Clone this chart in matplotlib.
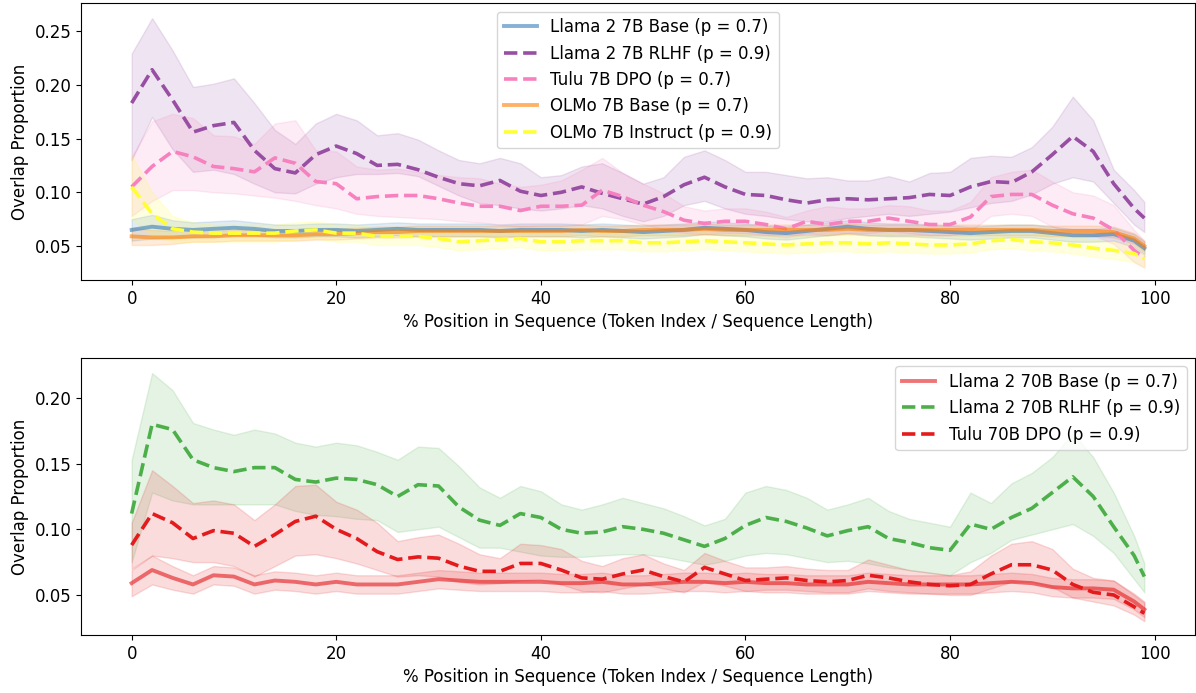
import matplotlib
matplotlib.use("Agg")
import matplotlib.pyplot as plt
import numpy as np

plt.rcParams["font.size"] = 12

# positions (% of sequence) at which values were read
x = [0, 2, 4, 6, 8, 10, 12, 14, 16, 18, 20, 22, 24, 26, 28, 30, 32, 34, 36, 38,
     40, 42, 44, 46, 48, 50, 52, 54, 56, 58, 60, 62, 64, 66, 68, 70, 72, 74, 76, 78,
     80, 82, 84, 86, 88, 90, 92, 94, 96, 98, 99]

# ---------------- top panel (7B models) ----------------
llama7_base = [0.065, 0.068, 0.066, 0.065, 0.066, 0.067, 0.066, 0.064, 0.064, 0.065,
               0.065, 0.064, 0.065, 0.066, 0.065, 0.065, 0.065, 0.065, 0.064, 0.065,
               0.065, 0.065, 0.064, 0.065, 0.064, 0.063, 0.064, 0.065, 0.067, 0.066,
               0.065, 0.063, 0.062, 0.064, 0.066, 0.068, 0.066, 0.065, 0.065, 0.064,
               0.063, 0.062, 0.063, 0.064, 0.064, 0.062, 0.060, 0.060, 0.061, 0.055, 0.048]
llama7_base_spread = [0.010, 0.011, 0.008, 0.007, 0.007, 0.007, 0.006, 0.006, 0.006, 0.006,
                      0.006, 0.006, 0.006, 0.006, 0.006, 0.006, 0.006, 0.006, 0.006, 0.006,
                      0.006, 0.006, 0.006, 0.006, 0.006, 0.006, 0.006, 0.006, 0.006, 0.006,
                      0.006, 0.006, 0.006, 0.006, 0.006, 0.006, 0.006, 0.006, 0.006, 0.006,
                      0.006, 0.006, 0.006, 0.006, 0.006, 0.006, 0.006, 0.006, 0.006, 0.006, 0.006]

llama7_rlhf = [0.183, 0.214, 0.186, 0.156, 0.162, 0.165, 0.139, 0.122, 0.118, 0.135,
               0.143, 0.136, 0.125, 0.126, 0.121, 0.114, 0.108, 0.106, 0.111, 0.101,
               0.097, 0.100, 0.105, 0.099, 0.094, 0.089, 0.096, 0.107, 0.114, 0.105,
               0.098, 0.097, 0.093, 0.090, 0.093, 0.094, 0.093, 0.094, 0.095, 0.098,
               0.097, 0.105, 0.110, 0.109, 0.119, 0.135, 0.152, 0.138, 0.108, 0.085, 0.076]
llama7_rlhf_hi = [0.229, 0.262, 0.232, 0.198, 0.201, 0.206, 0.183, 0.158, 0.145, 0.164,
                  0.173, 0.167, 0.153, 0.155, 0.149, 0.139, 0.130, 0.127, 0.132, 0.127,
                  0.114, 0.116, 0.124, 0.127, 0.118, 0.108, 0.114, 0.133, 0.139, 0.130,
                  0.119, 0.119, 0.116, 0.113, 0.114, 0.111, 0.111, 0.115, 0.110, 0.118,
                  0.119, 0.132, 0.134, 0.133, 0.142, 0.161, 0.189, 0.167, 0.121, 0.102, 0.091]
llama7_rlhf_lo = [0.130, 0.170, 0.140, 0.119, 0.121, 0.117, 0.108, 0.100, 0.099, 0.108,
                  0.114, 0.117, 0.117, 0.118, 0.115, 0.106, 0.097, 0.090, 0.088, 0.085,
                  0.083, 0.085, 0.088, 0.085, 0.078, 0.073, 0.078, 0.088, 0.092, 0.085,
                  0.080, 0.078, 0.075, 0.073, 0.073, 0.076, 0.078, 0.080, 0.078, 0.080,
                  0.082, 0.086, 0.090, 0.092, 0.098, 0.108, 0.114, 0.110, 0.090, 0.070, 0.063]

tulu7_dpo = [0.105, 0.124, 0.138, 0.133, 0.124, 0.122, 0.119, 0.132, 0.127, 0.110,
             0.108, 0.094, 0.096, 0.097, 0.097, 0.094, 0.090, 0.087, 0.087, 0.083,
             0.087, 0.087, 0.088, 0.102, 0.096, 0.088, 0.082, 0.074, 0.071, 0.073,
             0.073, 0.070, 0.066, 0.073, 0.070, 0.073, 0.073, 0.076, 0.073, 0.070,
             0.070, 0.077, 0.096, 0.098, 0.098, 0.088, 0.080, 0.076, 0.065, 0.046, 0.039]
tulu7_dpo_hi = [0.133, 0.166, 0.173, 0.169, 0.153, 0.152, 0.145, 0.164, 0.167, 0.139,
                0.138, 0.124, 0.121, 0.122, 0.119, 0.116, 0.114, 0.113, 0.108, 0.105,
                0.107, 0.111, 0.121, 0.132, 0.118, 0.108, 0.099, 0.087, 0.083, 0.085,
                0.085, 0.082, 0.077, 0.083, 0.087, 0.085, 0.085, 0.088, 0.087, 0.083,
                0.083, 0.091, 0.114, 0.119, 0.121, 0.110, 0.100, 0.097, 0.088, 0.065, 0.055]
tulu7_dpo_lo = [0.078, 0.092, 0.102, 0.102, 0.100, 0.099, 0.097, 0.095, 0.092, 0.088,
                0.085, 0.080, 0.078, 0.077, 0.076, 0.075, 0.073, 0.072, 0.070, 0.068,
                0.069, 0.069, 0.070, 0.078, 0.075, 0.070, 0.066, 0.062, 0.061, 0.062,
                0.062, 0.060, 0.058, 0.062, 0.060, 0.062, 0.062, 0.064, 0.062, 0.060,
                0.060, 0.064, 0.078, 0.080, 0.078, 0.068, 0.062, 0.060, 0.052, 0.035, 0.030]

olmo7_base = [0.059, 0.058, 0.058, 0.059, 0.059, 0.060, 0.060, 0.060, 0.060, 0.061,
              0.061, 0.062, 0.063, 0.063, 0.064, 0.064, 0.064, 0.064, 0.064, 0.064,
              0.064, 0.064, 0.065, 0.064, 0.064, 0.065, 0.065, 0.065, 0.066, 0.065,
              0.065, 0.065, 0.065, 0.065, 0.065, 0.066, 0.065, 0.065, 0.065, 0.065,
              0.065, 0.065, 0.065, 0.065, 0.065, 0.064, 0.064, 0.064, 0.063, 0.057, 0.050]
olmo7_base_spread = [0.008, 0.007, 0.006, 0.005, 0.005, 0.005, 0.005, 0.005, 0.005, 0.005,
                     0.005, 0.005, 0.005, 0.005, 0.005, 0.005, 0.005, 0.005, 0.005, 0.005,
                     0.005, 0.005, 0.005, 0.005, 0.005, 0.005, 0.005, 0.005, 0.005, 0.005,
                     0.005, 0.005, 0.005, 0.005, 0.005, 0.005, 0.005, 0.005, 0.005, 0.005,
                     0.005, 0.005, 0.005, 0.005, 0.005, 0.005, 0.005, 0.005, 0.005, 0.005, 0.005]

olmo7_instruct = [0.105, 0.080, 0.066, 0.063, 0.062, 0.062, 0.062, 0.062, 0.064, 0.065,
                  0.062, 0.062, 0.059, 0.059, 0.059, 0.057, 0.054, 0.055, 0.056, 0.057,
                  0.054, 0.054, 0.055, 0.055, 0.055, 0.053, 0.053, 0.054, 0.055, 0.054,
                  0.053, 0.052, 0.051, 0.052, 0.053, 0.053, 0.052, 0.053, 0.052, 0.051,
                  0.051, 0.052, 0.055, 0.056, 0.054, 0.053, 0.051, 0.048, 0.046, 0.043, 0.038]
olmo7_instruct_spread = [0.030, 0.020, 0.012, 0.009, 0.008, 0.008, 0.008, 0.008, 0.008, 0.008,
                         0.008, 0.008, 0.008, 0.008, 0.008, 0.008, 0.008, 0.008, 0.008, 0.008,
                         0.008, 0.008, 0.008, 0.008, 0.008, 0.008, 0.008, 0.008, 0.008, 0.008,
                         0.008, 0.008, 0.008, 0.008, 0.008, 0.008, 0.008, 0.008, 0.008, 0.008,
                         0.008, 0.008, 0.008, 0.008, 0.008, 0.008, 0.008, 0.008, 0.008, 0.008, 0.008]

# ---------------- bottom panel (70B models) ----------------
llama70_base = [0.059, 0.069, 0.063, 0.058, 0.065, 0.064, 0.058, 0.061, 0.060, 0.058,
                0.060, 0.058, 0.058, 0.058, 0.060, 0.062, 0.061, 0.060, 0.060, 0.060,
                0.060, 0.059, 0.059, 0.060, 0.058, 0.058, 0.059, 0.060, 0.060, 0.059,
                0.060, 0.059, 0.059, 0.058, 0.058, 0.058, 0.060, 0.059, 0.058, 0.058,
                0.058, 0.058, 0.059, 0.060, 0.059, 0.056, 0.055, 0.055, 0.054, 0.045, 0.039]
llama70_base_spread = [0.010, 0.011, 0.009, 0.007, 0.007, 0.007, 0.007, 0.007, 0.007, 0.007,
                       0.007, 0.007, 0.007, 0.007, 0.007, 0.007, 0.007, 0.007, 0.007, 0.007,
                       0.007, 0.007, 0.007, 0.007, 0.007, 0.007, 0.007, 0.007, 0.007, 0.007,
                       0.007, 0.007, 0.007, 0.007, 0.007, 0.007, 0.007, 0.007, 0.007, 0.007,
                       0.007, 0.007, 0.007, 0.007, 0.007, 0.007, 0.007, 0.007, 0.007, 0.006, 0.006]

llama70_rlhf = [0.112, 0.180, 0.176, 0.153, 0.147, 0.144, 0.147, 0.147, 0.138, 0.136,
                0.139, 0.138, 0.134, 0.125, 0.134, 0.133, 0.117, 0.107, 0.103, 0.112,
                0.109, 0.100, 0.097, 0.098, 0.102, 0.100, 0.097, 0.092, 0.087, 0.093,
                0.103, 0.109, 0.106, 0.101, 0.095, 0.099, 0.102, 0.093, 0.090, 0.086,
                0.084, 0.104, 0.100, 0.109, 0.116, 0.128, 0.140, 0.125, 0.102, 0.080, 0.064]
llama70_rlhf_hi = [0.153, 0.219, 0.206, 0.181, 0.176, 0.172, 0.176, 0.173, 0.166, 0.163,
                   0.166, 0.164, 0.159, 0.153, 0.163, 0.162, 0.148, 0.132, 0.124, 0.133,
                   0.129, 0.119, 0.115, 0.119, 0.124, 0.120, 0.116, 0.110, 0.103, 0.108,
                   0.128, 0.133, 0.130, 0.124, 0.115, 0.119, 0.124, 0.114, 0.108, 0.105,
                   0.102, 0.128, 0.120, 0.135, 0.143, 0.155, 0.173, 0.155, 0.128, 0.095, 0.074]
llama70_rlhf_lo = [0.075, 0.128, 0.122, 0.119, 0.119, 0.119, 0.119, 0.119, 0.114, 0.111,
                   0.110, 0.108, 0.107, 0.098, 0.100, 0.102, 0.094, 0.086, 0.086, 0.083,
                   0.080, 0.079, 0.079, 0.080, 0.081, 0.081, 0.079, 0.076, 0.073, 0.076,
                   0.080, 0.082, 0.081, 0.078, 0.075, 0.076, 0.074, 0.071, 0.069, 0.067,
                   0.065, 0.075, 0.082, 0.092, 0.096, 0.100, 0.104, 0.095, 0.082, 0.062, 0.052]

tulu70_dpo = [0.088, 0.112, 0.105, 0.093, 0.099, 0.097, 0.087, 0.096, 0.106, 0.110,
              0.100, 0.093, 0.083, 0.077, 0.079, 0.078, 0.072, 0.068, 0.068, 0.074,
              0.074, 0.069, 0.063, 0.062, 0.066, 0.069, 0.064, 0.060, 0.071, 0.066,
              0.061, 0.062, 0.063, 0.061, 0.060, 0.061, 0.065, 0.063, 0.060, 0.058,
              0.057, 0.058, 0.066, 0.073, 0.073, 0.069, 0.058, 0.052, 0.050, 0.041, 0.036]
tulu70_dpo_hi = [0.105, 0.145, 0.133, 0.120, 0.122, 0.119, 0.107, 0.119, 0.133, 0.134,
                 0.121, 0.115, 0.105, 0.091, 0.094, 0.096, 0.089, 0.081, 0.078, 0.089,
                 0.088, 0.085, 0.076, 0.072, 0.078, 0.081, 0.074, 0.069, 0.082, 0.076,
                 0.071, 0.071, 0.072, 0.070, 0.069, 0.069, 0.077, 0.073, 0.069, 0.067,
                 0.065, 0.068, 0.080, 0.089, 0.091, 0.085, 0.070, 0.063, 0.061, 0.050, 0.044]
tulu70_dpo_lo = [0.070, 0.080, 0.078, 0.075, 0.075, 0.072, 0.064, 0.072, 0.080, 0.081,
                 0.078, 0.074, 0.069, 0.064, 0.065, 0.064, 0.060, 0.058, 0.059, 0.061,
                 0.062, 0.058, 0.053, 0.052, 0.055, 0.058, 0.055, 0.052, 0.060, 0.057,
                 0.053, 0.054, 0.054, 0.053, 0.052, 0.052, 0.055, 0.053, 0.052, 0.051,
                 0.050, 0.050, 0.055, 0.060, 0.060, 0.056, 0.048, 0.045, 0.042, 0.035, 0.030]

labels_top = ["Llama 2 7B Base (p = 0.7)", "Llama 2 7B RLHF (p = 0.9)",
              "Tulu 7B DPO (p = 0.7)", "OLMo 7B Base (p = 0.7)",
              "OLMo 7B Instruct (p = 0.9)"]
labels_bottom = ["Llama 2 70B Base (p = 0.7)", "Llama 2 70B RLHF (p = 0.9)",
                 "Tulu 70B DPO (p = 0.9)"]
xticks = [0, 20, 40, 60, 80, 100]
yticks_top = [0.05, 0.10, 0.15, 0.20, 0.25]
yticks_bottom = [0.05, 0.10, 0.15, 0.20]
xlabel = "% Position in Sequence (Token Index / Sequence Length)"
ylabel = "Overlap Proportion"

BLUE, PURPLE, PINK, ORANGE, YELLOW = "#377eb8", "#984ea3", "#f781bf", "#ff7f00", "#ffff33"
RED, GREEN = "#e41a1c", "#4daf4a"


def band_from_spread(mean, spread):
    m = np.asarray(mean)
    s = np.asarray(spread)
    return m - s, m + s


def draw(ax, mean, lo, hi, color, label, dashed):
    ax.fill_between(x, lo, hi, color=color, alpha=0.15, linewidth=1)
    if dashed:
        ax.plot(x, mean, color=color, linestyle="--", linewidth=2.6, label=label)
    else:
        ax.plot(x, mean, color=color, linestyle="-", linewidth=2.8, alpha=0.6, label=label)


fig = plt.figure(figsize=(11.96, 6.93), dpi=100)
ax1 = fig.add_axes([81 / 1196, 1 - 280 / 693, 1114 / 1196, 276.7 / 693])
ax2 = fig.add_axes([81 / 1196, 1 - 635 / 693, 1114 / 1196, 277 / 693])

lo, hi = band_from_spread(llama7_base, llama7_base_spread)
draw(ax1, llama7_base, lo, hi, BLUE, labels_top[0], False)
draw(ax1, llama7_rlhf, llama7_rlhf_lo, llama7_rlhf_hi, PURPLE, labels_top[1], True)
draw(ax1, tulu7_dpo, tulu7_dpo_lo, tulu7_dpo_hi, PINK, labels_top[2], True)
lo, hi = band_from_spread(olmo7_base, olmo7_base_spread)
draw(ax1, olmo7_base, lo, hi, ORANGE, labels_top[3], False)
lo, hi = band_from_spread(olmo7_instruct, olmo7_instruct_spread)
draw(ax1, olmo7_instruct, lo, hi, YELLOW, labels_top[4], True)

lo, hi = band_from_spread(llama70_base, llama70_base_spread)
draw(ax2, llama70_base, lo, hi, RED, labels_bottom[0], False)
draw(ax2, llama70_rlhf, llama70_rlhf_lo, llama70_rlhf_hi, GREEN, labels_bottom[1], True)
draw(ax2, tulu70_dpo, tulu70_dpo_lo, tulu70_dpo_hi, RED, labels_bottom[2], True)

ax1.set_xlim(-4.95, 103.95)
ax2.set_xlim(-4.95, 103.95)
ax1.set_ylim(0.0184, 0.2758)
ax2.set_ylim(0.0195, 0.2305)
ax1.set_yticks(yticks_top)
ax2.set_yticks(yticks_bottom)
for ax in (ax1, ax2):
    ax.set_xlabel(xlabel)
    ax.set_ylabel(ylabel)
    ax.set_xticks(xticks)

ax1.legend(loc="upper center")
ax2.legend(loc="upper right")

fig.savefig("out.png", dpi=100)
